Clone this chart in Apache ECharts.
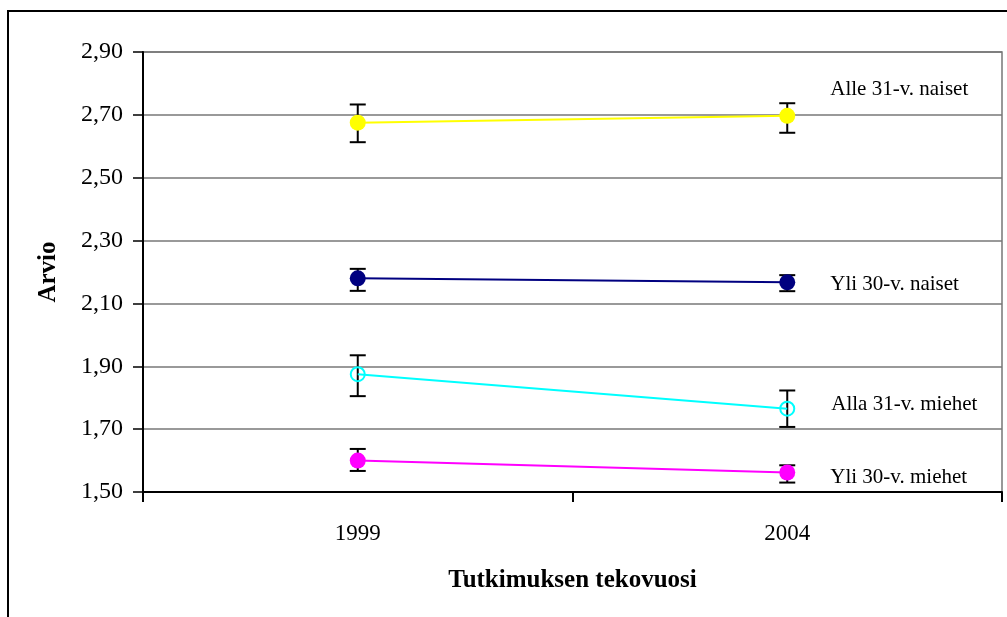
<!DOCTYPE html>
<html>
<head>
<meta charset="utf-8">
<script src="https://cdn.jsdelivr.net/npm/echarts@6/dist/echarts.min.js"></script>
<style>html,body{margin:0;padding:0;background:#fff;}#c{width:1007px;height:617px;}</style>
</head>
<body>
<div id="c"></div>
<script>
var categories = ['1999', '2004'];
var yTickLabels = ['1,50', '1,70', '1,90', '2,10', '2,30', '2,50', '2,70', '2,90'];

var names = ['Alle 31-v. naiset', 'Yli 30-v. naiset', 'Alla 31-v. miehet', 'Yli 30-v. miehet'];
var colors = ['#FFFF00', '#000080', '#00FFFF', '#FF00FF'];

var alleNaisetMean = [2.675, 2.697];
var alleNaisetLow  = [2.613, 2.643];
var alleNaisetHigh = [2.733, 2.737];

var yliNaisetMean = [2.180, 2.167];
var yliNaisetLow  = [2.140, 2.139];
var yliNaisetHigh = [2.210, 2.190];

var allaMiehetMean = [1.875, 1.765];
var allaMiehetLow  = [1.805, 1.707];
var allaMiehetHigh = [1.935, 1.823];

var yliMiehetMean = [1.600, 1.562];
var yliMiehetLow  = [1.567, 1.530];
var yliMiehetHigh = [1.637, 1.585];

var means = [alleNaisetMean, yliNaisetMean, allaMiehetMean, yliMiehetMean];
var lows = [alleNaisetLow, yliNaisetLow, allaMiehetLow, yliMiehetLow];
var highs = [alleNaisetHigh, yliNaisetHigh, allaMiehetHigh, yliMiehetHigh];
var labelOffsets = [[0, -26], [0, 2], [0, -4], [0, 5]];

var FONT = 'Liberation Serif';

var chart = echarts.init(document.getElementById('c'), null, {renderer: 'canvas'});

var series = [];
// error bars
for (var s = 0; s < 4; s++) {
  var d = [];
  for (var i = 0; i < categories.length; i++) d.push([i, lows[s][i], highs[s][i]]);
  series.push({
    type: 'custom',
    z: 2,
    silent: true,
    data: d,
    renderItem: function (params, api) {
      var lo = api.coord([api.value(0), api.value(1)]);
      var hi = api.coord([api.value(0), api.value(2)]);
      var hw = 8;
      var st = {stroke: '#000', lineWidth: 2};
      return {type: 'group', children: [
        {type: 'line', shape: {x1: hi[0], y1: hi[1], x2: lo[0], y2: lo[1]}, style: st},
        {type: 'line', shape: {x1: hi[0] - hw, y1: hi[1], x2: hi[0] + hw, y2: hi[1]}, style: st},
        {type: 'line', shape: {x1: lo[0] - hw, y1: lo[1], x2: lo[0] + hw, y2: lo[1]}, style: st}
      ]};
    }
  });
}
// lines
for (var s = 0; s < 4; s++) {
  var hollow = (s === 2);
  var data = means[s].map(function (v, i) {
    var item = {value: v};
    if (i === categories.length - 1) {
      item.label = {
        show: true, position: 'right', distance: hollow ? 36 : 35,
        offset: labelOffsets[s],
        formatter: names[s], color: '#000', fontFamily: FONT, fontSize: 21
      };
    }
    return item;
  });
  series.push({
    type: 'line',
    name: names[s],
    z: 3,
    data: data,
    symbol: 'circle',
    symbolSize: hollow ? 14 : 16,
    showAllSymbol: true,
    lineStyle: {color: colors[s], width: 2},
    itemStyle: hollow ? {color: 'rgba(0,0,0,0)', borderColor: colors[s], borderWidth: 2} : {color: colors[s], borderWidth: 0},
    emphasis: {disabled: true},
    animation: false
  });
}

chart.setOption({
  animation: false,
  backgroundColor: '#fff',
  textStyle: {fontFamily: FONT},
  grid: {left: 143, right: 5, top: 52, bottom: 125, show: true, borderColor: '#777', borderWidth: 1.5, backgroundColor: 'transparent'},
  graphic: [{
    type: 'rect', shape: {x: 8, y: 11, width: 1020, height: 640},
    style: {fill: 'none', stroke: '#000', lineWidth: 2}, z: 100, silent: true
  }],
  xAxis: {
    type: 'category',
    data: categories,
    boundaryGap: true,
    name: 'Tutkimuksen tekovuosi',
    nameLocation: 'middle',
    nameGap: 76,
    nameTextStyle: {fontFamily: FONT, fontSize: 25, fontWeight: 'bold', color: '#000'},
    axisLine: {show: true, lineStyle: {color: '#000', width: 2}},
    axisTick: {show: true, inside: false, length: 10, alignWithLabel: false, lineStyle: {color: '#000', width: 2}},
    axisLabel: {fontFamily: FONT, fontSize: 23, color: '#000', margin: 30},
    splitLine: {show: false}
  },
  yAxis: {
    type: 'value',
    min: 1.5, max: 2.9, interval: 0.2,
    name: 'Arvio',
    nameLocation: 'middle',
    nameGap: 82,
    nameRotate: 90,
    nameTextStyle: {fontFamily: FONT, fontSize: 25, fontWeight: 'bold', color: '#000'},
    axisLine: {show: true, lineStyle: {color: '#000', width: 2}},
    axisTick: {show: true, length: 10, lineStyle: {color: '#000', width: 1.5}},
    axisLabel: {
      fontFamily: FONT, fontSize: 24, color: '#000', margin: 20,
      formatter: function (v) {
        var idx = Math.round((v - 1.5) / 0.2);
        return yTickLabels[idx] !== undefined ? yTickLabels[idx] : '';
      }
    },
    splitLine: {show: true, lineStyle: {color: '#777', width: 1.5}}
  },
  series: series
});
</script>
</body>
</html>
